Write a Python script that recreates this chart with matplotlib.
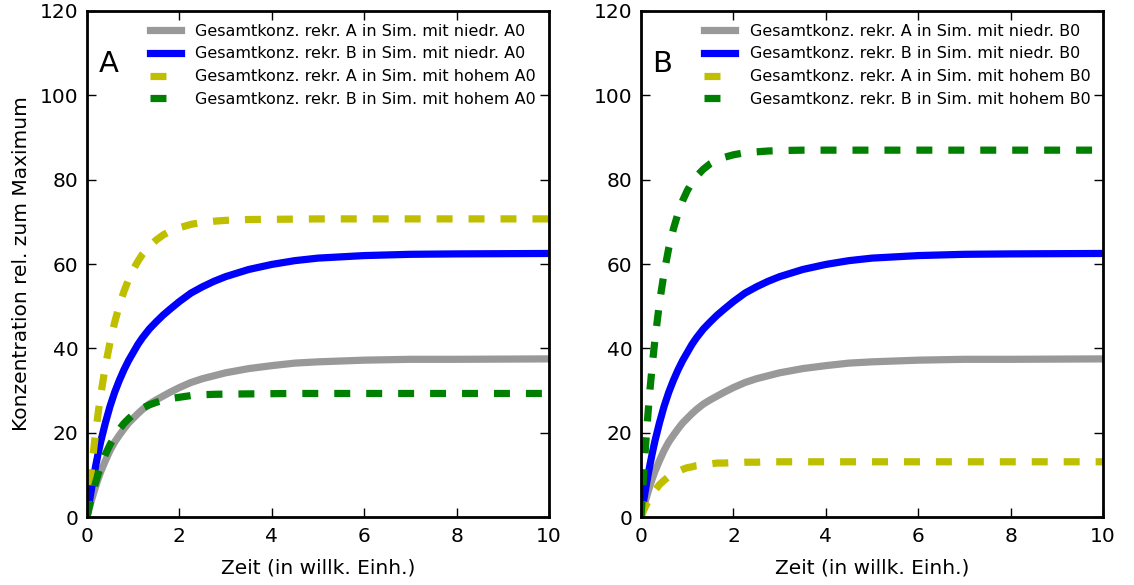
import matplotlib
matplotlib.use('Agg')
import matplotlib.pyplot as plt

# Zeitpunkte (willk. Einheiten)
zeit = [0, 0.05, 0.1, 0.15, 0.2, 0.25, 0.3, 0.4, 0.5, 0.6, 0.7, 0.8, 0.9, 1.0,
        1.1, 1.2, 1.35, 1.5, 1.65, 1.8, 2.0, 2.25, 2.5, 2.75, 3.0, 3.5, 4.0,
        4.5, 5.0, 6.0, 7.0, 8.0, 10.0]

# Simulation mit niedrigem Startwert (in beiden Panels gleich)
niedr_A = [0, 2.1, 4.1, 5.9, 7.7, 9.3, 10.8, 13.4, 15.8, 17.8, 19.4, 20.9, 22.3,
           23.4, 24.5, 25.5, 26.8, 27.8, 28.7, 29.6, 30.7, 31.9, 32.8, 33.5,
           34.2, 35.2, 35.9, 36.5, 36.8, 37.2, 37.4, 37.4, 37.5]
niedr_B = [0, 3.5, 6.8, 9.9, 12.8, 15.5, 18.0, 22.4, 26.3, 29.6, 32.4, 34.9, 37.1,
           39.0, 40.9, 42.5, 44.6, 46.3, 47.9, 49.3, 51.1, 53.1, 54.6, 55.9,
           57.0, 58.7, 59.9, 60.8, 61.4, 62.0, 62.3, 62.4, 62.5]

# Panel A: Simulation mit hohem A0
hoch_A0_A = [0, 6.0, 11.5, 16.5, 21.1, 25.3, 29.1, 35.9, 41.5, 46.2, 50.2, 53.5,
             56.3, 58.7, 60.6, 62.3, 64.2, 65.7, 66.9, 67.8, 68.6, 69.4, 69.9,
             70.15, 70.35, 70.55, 70.6, 70.65, 70.7, 70.7, 70.7, 70.7, 70.7]
hoch_A0_B = [0, 2.5, 4.8, 6.8, 8.7, 10.5, 12.1, 14.9, 17.2, 19.1, 20.8, 22.2,
             23.3, 24.3, 25.1, 25.8, 26.6, 27.2, 27.7, 28.1, 28.4, 28.8, 29.0,
             29.1, 29.15, 29.2, 29.25, 29.3, 29.3, 29.3, 29.3, 29.3, 29.3]

# Panel B: Simulation mit hohem B0
hoch_B0_A = [0, 1.4, 2.6, 3.7, 4.7, 5.5, 6.3, 7.7, 8.7, 9.6, 10.3, 10.8, 11.3,
             11.7, 11.9, 12.2, 12.4, 12.6, 12.8, 12.8, 12.9, 13.0, 13.0, 13.1,
             13.1, 13.1, 13.1, 13.1, 13.1, 13.1, 13.1, 13.1, 13.1]
hoch_B0_B = [0, 9.1, 17.2, 24.5, 31.0, 36.8, 42.0, 50.9, 58.0, 63.8, 68.3, 72.0,
             75.0, 77.4, 79.3, 80.8, 82.5, 83.8, 84.7, 85.3, 85.9, 86.4, 86.6,
             86.8, 86.9, 87.0, 87.0, 87.0, 87.0, 87.0, 87.0, 87.0, 87.0]

x_ticks = [0, 2, 4, 6, 8, 10]
y_ticks = [0, 20, 40, 60, 80, 100, 120]

plt.rcParams['lines.scale_dashes'] = False
DASH = (11.5, 11.5)
LW = 5.2


def plot_panel(ax, letter, hoch_A, hoch_B, name):
    ax.plot(zeit, niedr_A, color='0.6', lw=LW,
            label='Gesamtkonz. rekr. A in Sim. mit niedr. %s' % name)
    ax.plot(zeit, niedr_B, color='b', lw=LW,
            label='Gesamtkonz. rekr. B in Sim. mit niedr. %s' % name)
    ax.plot(zeit, hoch_A, color='y', lw=LW, dashes=DASH,
            label='Gesamtkonz. rekr. A in Sim. mit hohem %s' % name)
    ax.plot(zeit, hoch_B, color='g', lw=LW, dashes=DASH,
            label='Gesamtkonz. rekr. B in Sim. mit hohem %s' % name)
    ax.set_xlim(0, 10)
    ax.set_ylim(0, 120)
    ax.set_xticks(x_ticks)
    ax.set_yticks(y_ticks)
    ax.tick_params(direction='in', top=True, right=True, length=6.5, width=1,
                   labelsize=14.5)
    ax.tick_params(axis='x', pad=7)
    ax.tick_params(axis='y', pad=6)
    for sp in ax.spines.values():
        sp.set_linewidth(2)
    ax.set_xlabel('Zeit (in willk. Einh.)', fontsize=14.5, labelpad=9)
    ax.text(0.025, 0.895, letter, transform=ax.transAxes, fontsize=21,
            va='center', ha='left')
    ax.legend(loc='upper right', frameon=False, fontsize=11.5, handlelength=1.95,
              handletextpad=0.88, labelspacing=0.48, borderpad=0.45,
              borderaxespad=0.35)


fig = plt.figure(figsize=(11.34, 5.85), dpi=100)
ax1 = fig.add_axes([0.0767, 0.1162, 0.4074, 0.865])
ax2 = fig.add_axes([0.5653, 0.1162, 0.4074, 0.865])

plot_panel(ax1, 'A', hoch_A0_A, hoch_A0_B, 'A0')
plot_panel(ax2, 'B', hoch_B0_A, hoch_B0_B, 'B0')
ax1.set_ylabel('Konzentration rel. zum Maximum', fontsize=14.5, labelpad=6.8)

fig.savefig('out.png', dpi=100)
